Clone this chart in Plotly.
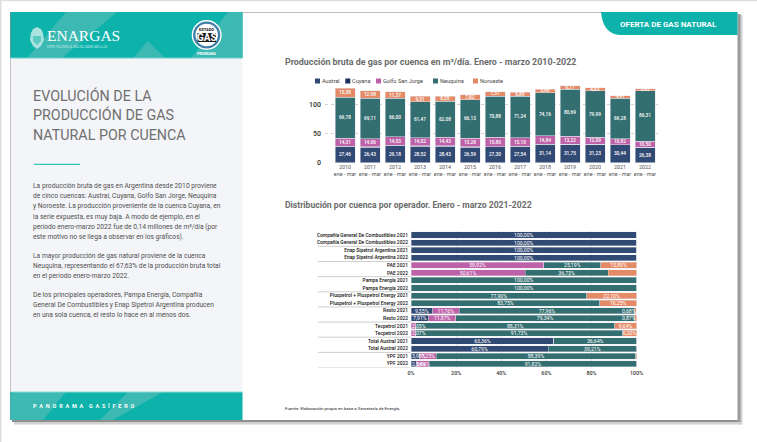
import plotly.graph_objects as go

W, H = 757, 442
FONT = "Roboto"

# --- data: gross production by basin
years = [str(y) for y in range(2010, 2023)]
period = "ene - mar"
austral = [27.46, 26.43, 29.18, 28.52, 28.43, 26.59, 27.30, 27.54, 31.14, 31.75, 31.23, 30.44, 26.38]
cuyana = [0.60, 0.55, 0.50, 0.45, 0.40, 0.35, 0.30, 0.30, 0.25, 0.25, 0.20, 0.15, 0.14]
golfo = [14.31, 14.06, 14.53, 14.02, 14.43, 15.28, 15.80, 15.10, 14.84, 13.22, 12.09, 10.82, 10.50]
neuquina = [69.78, 69.11, 66.00, 61.47, 62.08, 66.13, 70.88, 71.24, 74.16, 80.69, 79.99, 69.28, 86.31]
noroeste = [15.58, 12.98, 11.37, 9.51, 8.35, 7.82, 7.51, 6.89, 5.96, 6.17, 4.83, 4.41, 3.93]

# --- data: share by operator
operators = [
    "Compañía General De Combustibles 2021", "Compañía General De Combustibles 2022",
    "Enap Sipetrol Argentina 2021", "Enap Sipetrol Argentina 2022",
    "PAE 2021", "PAE 2022", "Pampa Energía 2021", "Pampa Energía 2022",
    "Pluspetrol + Pluspetrol Energy 2021", "Pluspetrol + Pluspetrol Energy 2022",
    "Resto 2021", "Resto 2022", "Tecpetrol 2021", "Tecpetrol 2022",
    "Total Austral 2021", "Total Austral 2022", "YPF 2021", "YPF 2022",
]
op_austral = [100, 100, 100, 100, 0, 0, 0, 0, 0, 0, 9.55, 7.91, 0, 0, 63.36, 60.79, 3.98, 2.54]
op_golfo = [0, 0, 0, 0, 58.92, 50.61, 0, 0, 0, 0, 11.76, 11.87, 2.05, 2.07, 0, 0, 7.25, 5.64]
op_neuquina = [0, 0, 0, 0, 25.19, 36.73, 100, 100, 77.90, 83.75, 77.96, 79.34, 88.31, 91.73, 36.64, 39.21, 88.39, 91.82]
op_noroeste = [0, 0, 0, 0, 15.89, 12.67, 0, 0, 22.10, 16.25, 0.68, 0.87, 9.64, 6.20, 0, 0, 0.38, 0]
x_ticks = [0, 20, 40, 60, 80, 100]
x_tick_text = ["0%", "20%", "40%", "60%", "80%", "100%"]

basins = ["Austral", "Cuyana", "Golfo San Jorge", "Neuquina", "Noroeste"]
colors = {"Austral": "#314a73", "Cuyana": "#1c2a5e", "Golfo San Jorge": "#bd62a8",
          "Neuquina": "#336e70", "Noroeste": "#e58a66"}

main_title = ["EVOLUCIÓN DE LA", "PRODUCCIÓN DE GAS", "NATURAL POR CUENCA"]
body_lines = [
    (185.7, "La producción bruta de gas en Argentina desde 2010 proviene"),
    (196.0, "de cinco cuencas: Austral, Cuyana, Golfo San Jorge, Neuquina"),
    (206.4, "y Noroeste. La producción proveniente de la cuenca Cuyana, en"),
    (216.7, "la serie expuesta, es muy baja. A modo de ejemplo, en el"),
    (227.0, "período enero-marzo 2022 fue de 0,14 millones de m³/día (por"),
    (237.3, "este motivo no se llega a observar en los gráficos)."),
    (255.6, "La mayor producción de gas natural proviene de la cuenca"),
    (266.0, "Neuquina, representando el 67,63% de la producción bruta total"),
    (276.4, "en el período enero-marzo 2022."),
    (294.6, "De los principales operadores, Pampa Energía, Compañía"),
    (305.0, "General De Combustibles y Enap Sipetrol Argentina producen"),
    (315.4, "en una sola cuenca, el resto lo hace en al menos dos."),
]


def px(x):
    return x / W


def py(y):
    return 1 - y / H


def fmt(v):
    return f"{v:.2f}".replace(".", ",")


shapes, annos = [], []


def rect(x0, y0, x1, y1, fill):
    shapes.append(dict(type="rect", xref="paper", yref="paper", x0=px(x0), x1=px(x1),
                       y0=py(y1), y1=py(y0), fillcolor=fill, line_width=0, layer="below"))


def poly(points, fill):
    d = "M " + " L ".join(f"{px(a):.5f},{py(b):.5f}" for a, b in points) + " Z"
    shapes.append(dict(type="path", xref="paper", yref="paper", path=d, fillcolor=fill,
                       line_width=0, layer="below"))


def circle(cx, cy, r, fill):
    shapes.append(dict(type="circle", xref="paper", yref="paper", x0=px(cx - r), x1=px(cx + r),
                       y0=py(cy + r), y1=py(cy - r), fillcolor=fill, line_width=0, layer="below"))


def label(x, y, s, size, color, family=FONT, anchor="left"):
    annos.append(dict(xref="paper", yref="paper", x=px(x), y=py(y), text=s, showarrow=False,
                      xanchor=anchor, yanchor="middle", borderpad=0, borderwidth=0,
                      font=dict(size=size, color=color, family=family)))


# page frame and shadow
rect(0, 0, W, 1.2, "#dedede")
rect(0, 0, 1.5, H, "#dedede")
rect(14, 421, 742, 424.5, "#d2d2d2")
rect(739, 15, 742.5, 424.5, "#d2d2d2")
rect(12, 419, 740, 422, "#8f8f8f")
rect(737, 14, 740.5, 422, "#9a9a9a")
rect(10.5, 12, 737.5, 420, "#ffffff")
rect(242, 12, 737.5, 12.8, "#a8a8a8")
rect(10, 12, 10.9, 420, "#8a8a8a")

# left panel
TEAL, TEAL_L = "#0db2aa", "#3bb9b2"
rect(10.5, 58, 242.5, 392, "#f4f5f8")
rect(10.5, 12, 242.5, 58, TEAL)
poly([(27, 58), (66, 12), (117, 12), (62, 58)], TEAL_L)
poly([(133, 58), (148, 41), (165, 58)], TEAL_L)
poly([(191, 58), (228, 12), (242.5, 12), (242.5, 58)], TEAL_L)
rect(10.5, 57.5, 242.5, 58.5, "#6fd0cb")
rect(10.5, 392, 242.5, 420, TEAL)
poly([(10.5, 395), (14, 392), (66, 392), (43, 420), (10.5, 420)], TEAL_L)
poly([(100, 420), (128, 392), (163, 392), (113, 420)], TEAL_L)
rect(10.5, 391.5, 242.5, 392.5, "#8fdcd7")
rect(34, 163.8, 80, 165, "#35c5bd")

# logos
poly([(31, 33), (33, 29), (37, 27), (41, 29), (43, 33), (44, 40), (41, 46), (37, 49),
      (33, 46), (30, 40)], "#a9e2de")
poly([(33, 36), (41, 36), (41, 41), (37, 45), (33, 41)], "#5cc9c3")
label(46.5, 35.5, "ENARGAS", 15.5, "#ffffff", "Liberation Serif")
label(47, 46.8, "ENTE NACIONAL REGULADOR DEL GAS", 3.2, "#d9f3f1", "Liberation Serif")
circle(206.7, 35, 15, "#ffffff")
circle(206.7, 35, 13.6, "#3f7fa8")
circle(206.7, 35, 11.2, "#ffffff")
rect(197.5, 33, 216, 42, "#1a1a1a")
label(206.7, 37.5, "<b>GAS</b>", 10, "#ffffff", FONT, "center")
label(206.7, 29.5, "<b>ESTADO</b>", 4, "#111111", FONT, "center")
label(206.7, 53.5, "<b>PROGRAMA</b>", 3.4, "#ffffff", FONT, "center")

# top-right tab
shapes.append(dict(type="path", xref="paper", yref="paper",
                   path=(f"M {px(601)},{py(12)} L {px(737.5)},{py(12)} L {px(737.5)},{py(35)} "
                         f"L {px(620)},{py(35)} Q {px(603)},{py(34)} {px(601)},{py(12)} Z"),
                   fillcolor=TEAL, line_width=0, layer="below"))
label(620, 24, "<b>OFERTA DE GAS NATURAL</b>", 8, "#ffffff")

# left panel text
for yy, s in zip([95, 115, 135], main_title):
    label(33, yy, s, 14.3, "#6f6f6f")
for yy, s in body_lines:
    label(33, yy, s, 6.7, "#505050")
label(33, 406, "<b>P\u2002A\u2002N\u2002O\u2002R\u2002A\u2002M\u2002A\u2002\u2002G\u2002A\u2002S\u2002Í\u2002F\u2002E\u2002R\u2002O</b>",
      5.5, "#ffffff")

# chart headings and source
label(285, 62, "<b>Producción bruta de gas por cuenca en m³/día. Enero - marzo 2010-2022</b>", 8.9, "#6b6b6b")
label(285, 205, "<b>Distribución por cuenca por operador. Enero - marzo 2021-2022</b>", 8.6, "#6b6b6b")
label(285, 408, "Fuente: Elaboración propia en base a Secretaría de Energía.", 4.4, "#222222")

# manual legend
legend_x = [315, 345.3, 376, 433, 473]
for lx, name in zip(legend_x, basins):
    rect(lx, 78.5, lx + 5, 83.5, colors[name])
    label(lx + 7, 81, name, 5.6, "#444444")

# operator separators on the lower chart
for pos in [i + 1.5 for i in range(0, 18, 2)]:
    shapes.append(dict(type="line", xref="paper", yref="y2", x0=px(318), x1=px(411), y0=pos, y1=pos,
                       line=dict(color="#cfcfcf", width=1), layer="below"))

fig = go.Figure()

# upper stacked bars
for name, vals in zip(basins, [austral, cuyana, golfo, neuquina, noroeste]):
    txt = None if name == "Cuyana" else [fmt(v) for v in vals]
    fig.add_trace(go.Bar(
        x=years, y=vals, name=name, marker=dict(color=colors[name], line=dict(color="#e6e6ee", width=0.5)),
        text=txt, textposition="inside" if txt else "none", constraintext="none", textangle=0,
        insidetextanchor="middle", textfont=dict(size=4.8, color="#ffffff", family=FONT, weight=500),
        showlegend=False, xaxis="x", yaxis="y", cliponaxis=False))


# labels that do not fit their segment stay inside the plot, pinned to the nearest edge
def pinned(op, v, at_right):
    annos.append(dict(xref="x2", yref="y2", x=100 if at_right else 0, y=op, text=fmt(v) + "%",
                      showarrow=False, xanchor="right" if at_right else "left", yanchor="middle",
                      borderpad=0, font=dict(size=5.2, color="#ffffff", family=FONT)))


# lower 100% bars
for name, vals in zip(["Austral", "Golfo San Jorge", "Neuquina", "Noroeste"],
                      [op_austral, op_golfo, op_neuquina, op_noroeste]):
    txt = []
    for op, v, a in zip(operators, vals, op_austral):
        if v < 0.5:
            txt.append("")
        elif name == "Noroeste" and v < 3:
            pinned(op, v, True)
            txt.append("")
        elif (name == "Austral" and v < 5) or (name == "Golfo San Jorge" and v < 3 and a == 0):
            pinned(op, v, False)
            txt.append("")
        else:
            txt.append(fmt(v) + "%")
    fig.add_trace(go.Bar(
        y=operators, x=vals, orientation="h", name=name,
        marker=dict(color=colors[name], line=dict(color="#e6e6ee", width=0.4)),
        text=txt, textposition="inside", constraintext="none", textangle=0, insidetextanchor="middle",
        textfont=dict(size=5.2, color="#ffffff", family=FONT),
        showlegend=False, xaxis="x2", yaxis="y2", cliponaxis=False))

fig.update_layout(
    width=W, height=H, margin=dict(l=0, r=0, t=0, b=0, pad=0, autoexpand=False),
    paper_bgcolor="#ffffff", plot_bgcolor="rgba(0,0,0,0)",
    barmode="stack", bargap=0.2, font=dict(family=FONT), shapes=shapes, annotations=annos,
    xaxis=dict(domain=[px(325), px(657.5)], anchor="y", type="category", range=[-0.8, 12.5],
               tickmode="array", tickvals=years, ticktext=[f"{y}<br>{period}" for y in years],
               tickangle=0, tickfont=dict(size=5.4, color="#555555", family=FONT), ticks="",
               showgrid=False, showline=False, zeroline=False, automargin=False),
    yaxis=dict(domain=[py(162.7), py(84)], anchor="x", range=[0, 135], tickvals=[0, 50, 100],
               tickfont=dict(size=7, color="#333333", family=FONT, weight=500), ticks="",
               showgrid=True, gridcolor="#cfcfcf", griddash="dot", gridwidth=0.7, zeroline=False,
               ticklabelstandoff=3, automargin=False),
    xaxis2=dict(domain=[px(411), px(636.6)], anchor="y2", range=[0, 100], tickmode="array",
                tickvals=x_ticks, ticktext=x_tick_text, tickfont=dict(size=5.4, color="#333333", family=FONT, weight=500),
                ticks="", showgrid=True, gridcolor="#e2e2e2", gridwidth=0.7, zeroline=False,
                ticklabelstandoff=1, automargin=False),
    yaxis2=dict(domain=[py(367.5), py(231.2)], anchor="x2", type="category",
                categoryorder="array", categoryarray=operators, range=[17.5, -0.5],
                tickfont=dict(size=4.9, color="#111111", family=FONT, weight=500), ticks="", showgrid=False,
                zeroline=False, ticklabelstandoff=2, automargin=False),
)

fig.write_html("out.html", config=dict(displayModeBar=False),
               post_script="document.body.style.margin='0';document.body.style.overflow='hidden';")
